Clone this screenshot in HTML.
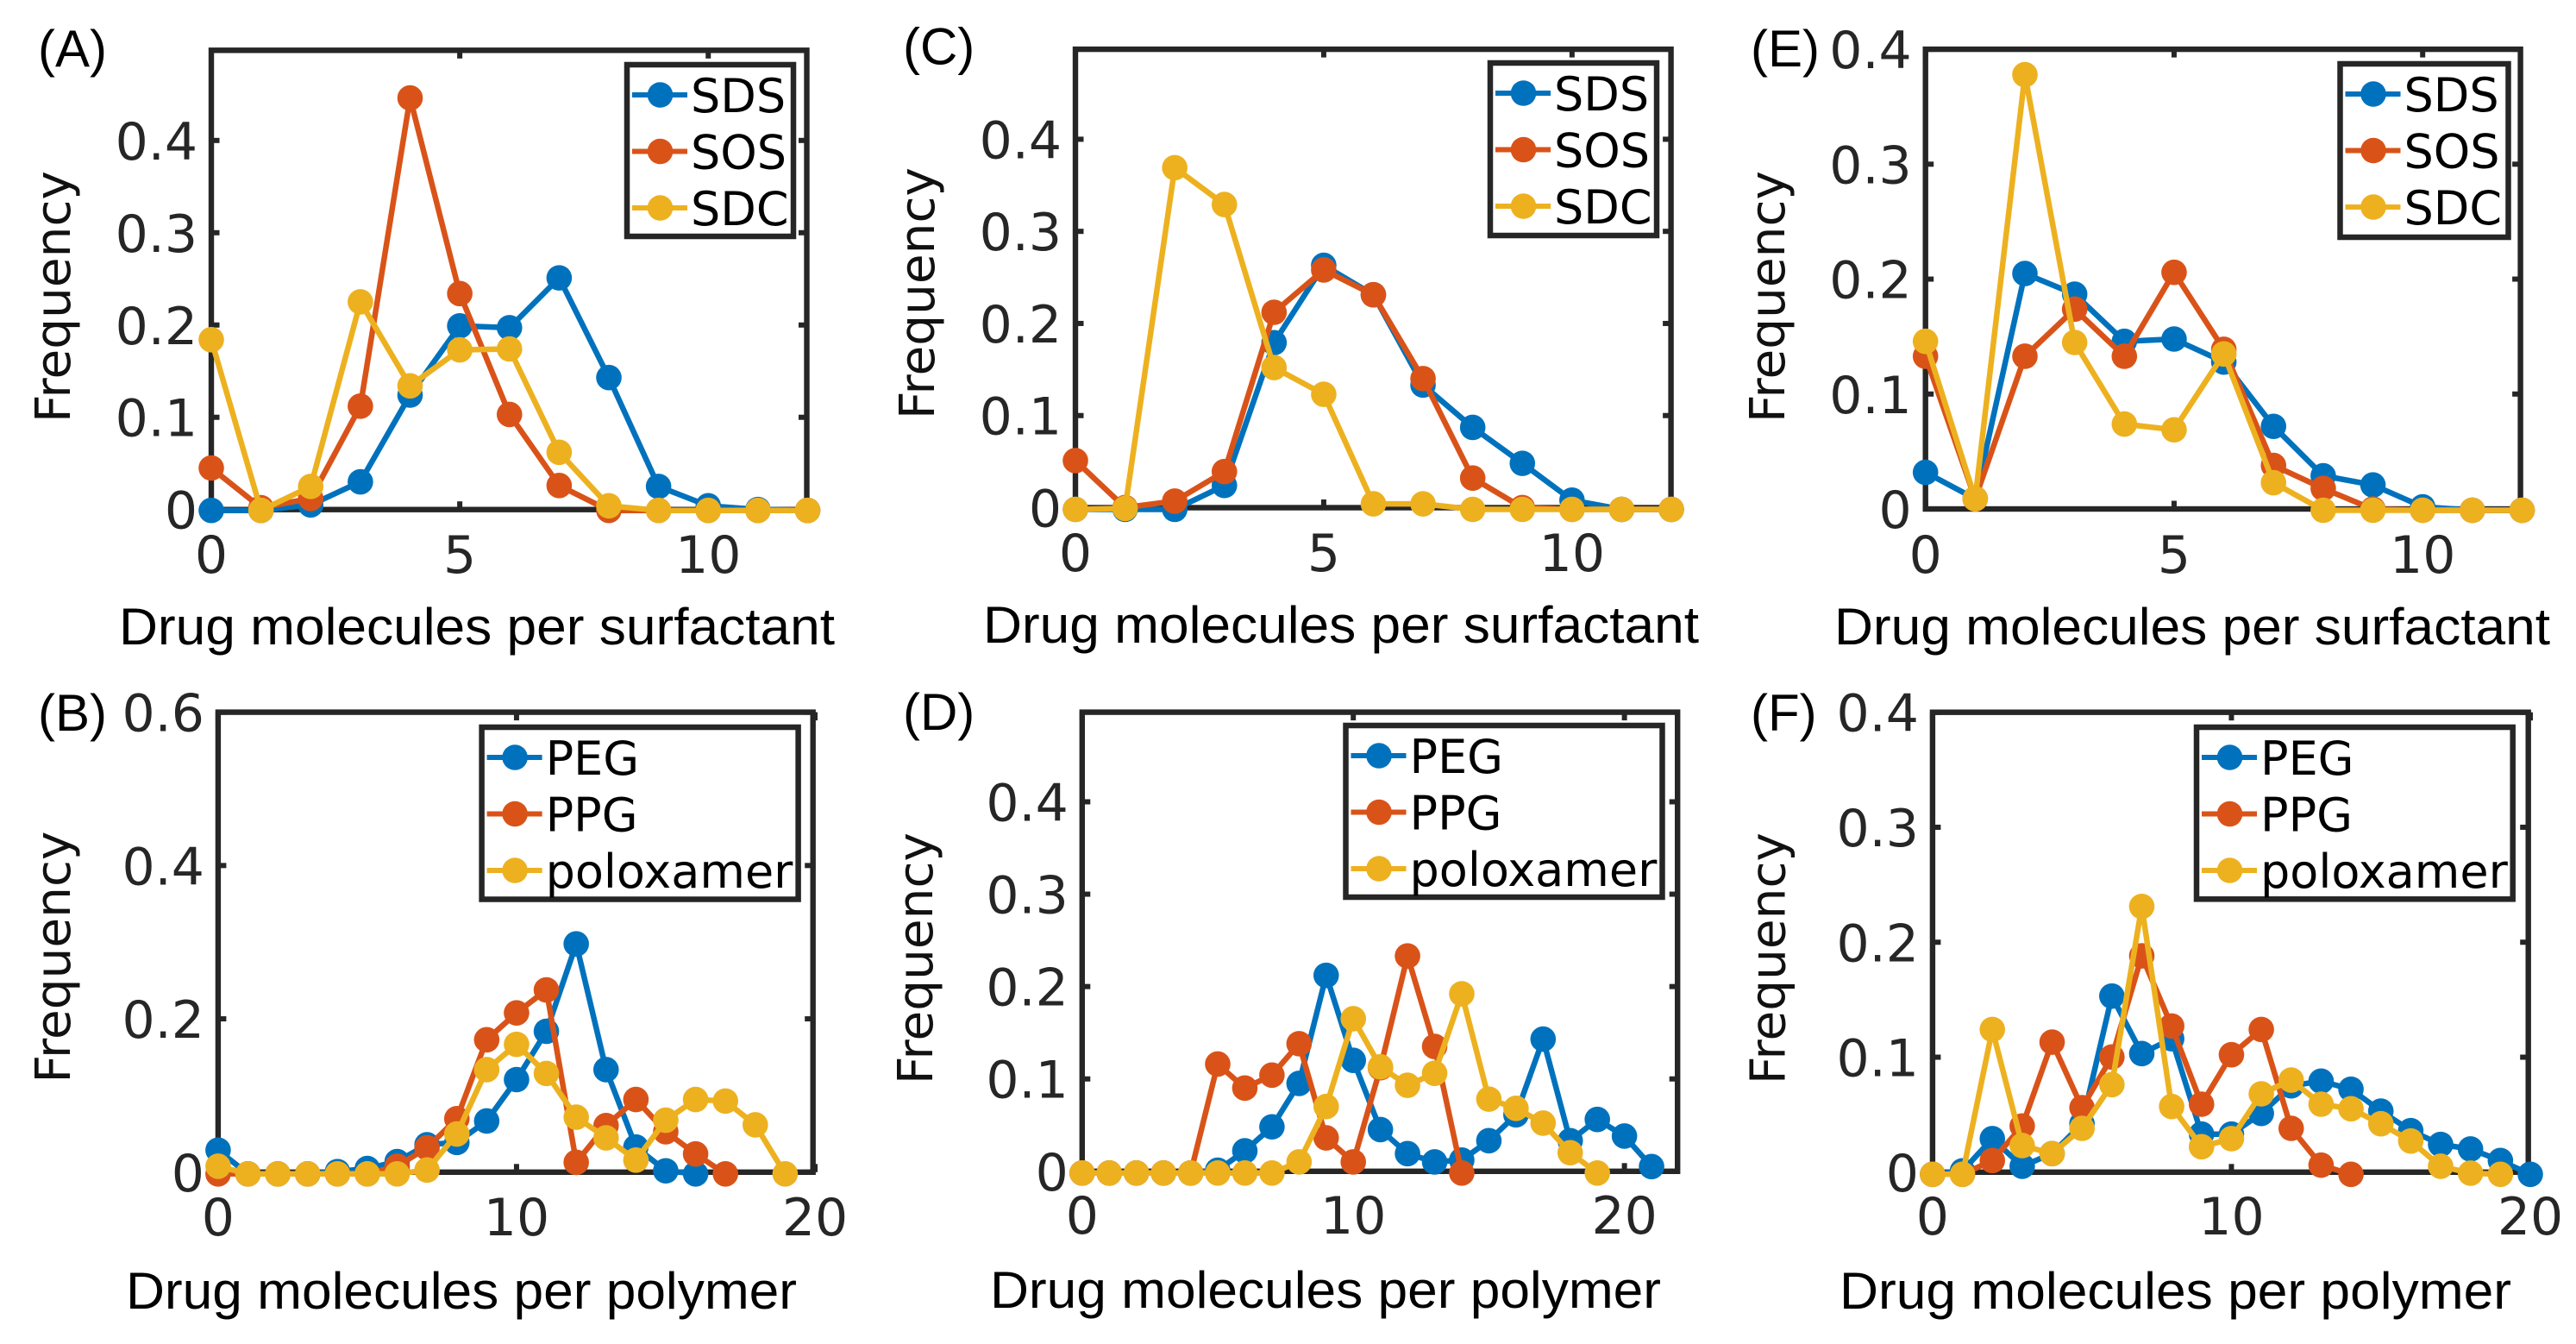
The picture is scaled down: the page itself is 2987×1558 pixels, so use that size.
<!DOCTYPE html>
<html lang="en">
<head>
<meta charset="utf-8">
<title>Drug molecule frequency distributions</title>
<style>
html,body{margin:0;padding:0;background:#fff;width:2987px;height:1558px;overflow:hidden}
svg{display:block}
.tick{font-family:"DejaVu Sans",sans-serif;font-size:60px;fill:#262626}
.xlab{font-family:"Liberation Sans",sans-serif;font-size:60px;fill:#000}
.ylab{font-family:"DejaVu Sans",sans-serif;font-size:56.5px;fill:#111}
.leg{font-family:"DejaVu Sans",sans-serif;font-size:54px;fill:#000}
.plab{font-family:"Liberation Sans",sans-serif;font-size:60px;fill:#000}
</style>
</head>
<body>
<svg id="figure" xmlns="http://www.w3.org/2000/svg" width="2987" height="1558" viewBox="0 0 2987 1558"></svg>
<script>
// Panel A
const aSDS = [0,0,0.006,0.031,0.125,0.2,0.198,0.252,0.144,0.026,0.005,0.001,0];
const aSOS = [0.046,0.003,0.013,0.113,0.447,0.235,0.104,0.027,0,0,0,0,0];
const aSDC = [0.185,0,0.026,0.226,0.135,0.174,0.175,0.063,0.005,0,0,0,0];
// Panel C
const cSDS = [0,0,0,0.026,0.181,0.265,0.233,0.135,0.089,0.05,0.01,0,0];
const cSOS = [0.053,0.002,0.009,0.041,0.214,0.26,0.233,0.142,0.034,0.002,0,0,0];
const cSDC = [0,0.001,0.371,0.331,0.154,0.125,0.006,0.006,0,0,0,0,0];
// Panel E
const eSDS = [0.033,0.01,0.206,0.188,0.147,0.149,0.129,0.073,0.03,0.022,0.003,0,0];
const eSOS = [0.134,0.01,0.134,0.175,0.134,0.207,0.14,0.039,0.019,0.001,0,0,0];
const eSDC = [0.147,0.01,0.379,0.146,0.075,0.07,0.136,0.024,0,0,0,0,0];
// Panel B
const bPEG = [0.031,0,0,0,0.003,0.007,0.016,0.038,0.041,0.069,0.123,0.186,0.3,0.136,0.035,0.004,0];
const bPPG = [0,0,0,0,0,0,0.01,0.034,0.072,0.175,0.21,0.24,0.015,0.063,0.097,0.055,0.026,0];
const bPOL = [0.01,0,0,0,0,0,0,0.005,0.052,0.136,0.169,0.131,0.074,0.047,0.018,0.07,0.097,0.095,0.064,0];
// Panel D
const dPEG = [0,0,0,0,0,0.003,0.024,0.05,0.097,0.214,0.122,0.047,0.021,0.012,0.014,0.035,0.063,0.145,0.035,0.058,0.04,0.007];
const dPPG = [0,0,0,0,0,0.118,0.092,0.106,0.14,0.038,0.012,0.114,0.235,0.137,0];
const dPOL = [0,0,0,0,0,0,0,0,0.012,0.072,0.167,0.115,0.095,0.108,0.194,0.08,0.07,0.054,0.022,0];
// Panel F
const fPEG = [0,0.003,0.031,0.007,0.018,0.044,0.155,0.105,0.118,0.035,0.035,0.053,0.077,0.081,0.074,0.055,0.038,0.026,0.022,0.012,0];
const fPPG = [0,0,0.012,0.042,0.115,0.058,0.102,0.19,0.129,0.061,0.104,0.126,0.04,0.008,0];
const fPOL = [0,0,0.126,0.025,0.018,0.04,0.078,0.233,0.059,0.024,0.031,0.07,0.082,0.061,0.057,0.044,0.029,0.007,0.001,0];
// Axis ticks and names
const surfactantNames = ["SDS","SOS","SDC"];
const polymerNames = ["PEG","PPG","poloxamer"];
const surfactantXTicks = [0,5,10];
const polymerXTicks = [0,10,20];
const yTicksFive = [0,0.1,0.2,0.3,0.4];
const yTicksSix = [0,0.2,0.4,0.6];

const colors = ["#0072BD","#D95319","#EDB120"];
const NS = "http://www.w3.org/2000/svg";
const root = document.getElementById("figure");

function mk(parent, tag, attrs, text){
  const el = document.createElementNS(NS, tag);
  for (const k in attrs) el.setAttribute(k, attrs[k]);
  if (text !== undefined) el.textContent = text;
  parent.appendChild(el);
  return el;
}
function fmt(v){ return v === 0 ? "0" : String(v); }

function drawPanel(p){
  const g = mk(root, "g", {});
  
  

  const X = v => p.left + v / p.xMax * (p.dataRight - p.left);
  const Y = v => p.bottom + p.shift - v / p.yMax * (p.bottom - p.top);
  const YT = v => p.bottom - v / p.yMax * (p.bottom - p.top);

  const frame = mk(g, "rect", {x:p.left, y:p.top, width:p.right-p.left, height:p.bottom-p.top, fill:"#fff", stroke:"#262626", "stroke-width":6.4});
  
  

  p.xTicks.forEach(t => {
    const a = mk(g, "line", {x1:X(t), x2:X(t), y1:p.bottom, y2:p.bottom-9.5, stroke:"#262626", "stroke-width":6});
    
    
    const b = mk(g, "line", {x1:X(t), x2:X(t), y1:p.top, y2:p.top+9.5, stroke:"#262626", "stroke-width":6});
    
    
    const l = mk(g, "text", {x:X(t), y:p.xTickY, "text-anchor":"middle", class:"tick"}, fmt(t));
    
    
  });
  p.yTicks.forEach(t => {
    const a = mk(g, "line", {x1:p.left, x2:p.left+9.5, y1:YT(t), y2:YT(t), stroke:"#262626", "stroke-width":6});
    
    
    const b = mk(g, "line", {x1:p.right, x2:p.right-9.5, y1:YT(t), y2:YT(t), stroke:"#262626", "stroke-width":6});
    
    
    const l = mk(g, "text", {x:p.left-16, y:YT(t)+22, "text-anchor":"end", class:"tick"}, fmt(t));
    
    
  });

  p.series.forEach((vals, i) => {
    const sg = mk(g, "g", {});
    
    
    const pts = vals.map((v, x) => X(x).toFixed(1) + "," + Y(v).toFixed(1)).join(" ");
    const line = mk(sg, "polyline", {points:pts, fill:"none", stroke:colors[i], "stroke-width":6.5, "stroke-linejoin":"round"});
    
    
    vals.forEach((v, x) => {
      const c = mk(sg, "circle", {cx:X(x), cy:Y(v), r:14.8, fill:colors[i]});
      
      
    });
  });

  const lg = mk(g, "g", {});
  
  
  const box = mk(lg, "rect", {x:p.legX, y:p.legY, width:p.legW, height:p.legH, fill:"#fff", stroke:"#262626", "stroke-width":6.5});
  
  
  p.names.forEach((name, i) => {
    const ry = p.legY + 35 + i * 65.5;
    const lx = p.legX + 6;
    const sw = mk(lg, "line", {x1:lx, x2:lx+64, y1:ry, y2:ry, stroke:colors[i], "stroke-width":6});
    
    
    const dot = mk(lg, "circle", {cx:lx+32.5, cy:ry, r:14.8, fill:colors[i]});
    
    
    const tx = mk(lg, "text", {x:lx+68, y:ry+20, class:"leg"}, name);
    
    
  });

  const xl = mk(g, "text", {x:p.xLabX, y:p.xLabY, class:"xlab", textLength:p.xLabW, lengthAdjust:"spacingAndGlyphs"}, p.xLabel);
  
  
  const yl = mk(g, "text", {transform:"translate(" + p.yLabX + "," + p.yLabY + ") rotate(-90)", "text-anchor":"middle", class:"ylab"}, "Frequency");
  
  
  const pl = mk(g, "text", {x:p.pLabX, y:p.pLabY, class:"plab"}, "(" + p.id + ")");
  
  
}

const surfLabel = "Drug molecules per surfactant";
const polyLabel = "Drug molecules per polymer";

drawPanel({id:"A",left:245,right:935.5,dataRight:936.5,top:58.3,bottom:590.7,shift:1,xMax:12,yMax:0.4977,xTicks:surfactantXTicks,yTicks:yTicksFive,xTickY:664,
  series:[aSDS,aSOS,aSDC],names:surfactantNames,legX:727,legY:75,legW:193,legH:199,
  xLabel:surfLabel,xLabX:138,xLabY:747,xLabW:830,yLabX:81,yLabY:344,pLabX:44,pLabY:77});
drawPanel({id:"C",left:1247,right:1937.6,dataRight:1938,top:57.1,bottom:588.5,shift:2,xMax:12,yMax:0.4977,xTicks:surfactantXTicks,yTicks:yTicksFive,xTickY:662,
  series:[cSDS,cSOS,cSDC],names:surfactantNames,legX:1728,legY:73,legW:193,legH:200,
  xLabel:surfLabel,xLabX:1140,xLabY:745,xLabW:830,yLabX:1083,yLabY:340,pLabX:1047,pLabY:74.5});
drawPanel({id:"E",left:2232.7,right:2922.6,dataRight:2924.5,top:57.1,bottom:590,shift:1.5,xMax:12,yMax:0.4,xTicks:surfactantXTicks,yTicks:yTicksFive,xTickY:664,
  series:[eSDS,eSOS,eSDC],names:surfactantNames,legX:2713.5,legY:74,legW:195,legH:201,
  xLabel:surfLabel,xLabX:2127,xLabY:747,xLabW:830,yLabX:2069,yLabY:344,pLabX:2030,pLabY:77});
drawPanel({id:"B",left:252.9,right:942.7,dataRight:945,top:825.6,bottom:1358.8,shift:2,xMax:20,yMax:0.6,xTicks:polymerXTicks,yTicks:yTicksSix,xTickY:1432,
  series:[bPEG,bPPG,bPOL],names:polymerNames,legX:558.6,legY:843,legW:367,legH:199.5,
  xLabel:polyLabel,xLabX:146,xLabY:1517,xLabW:778,yLabX:81,yLabY:1109.5,pLabX:44,pLabY:847});
drawPanel({id:"D",left:1254.8,right:1945.2,dataRight:1946.5,top:825.6,bottom:1357.8,shift:2,xMax:22,yMax:0.497,xTicks:polymerXTicks,yTicks:yTicksFive,xTickY:1430,
  series:[dPEG,dPPG,dPOL],names:polymerNames,legX:1560.5,legY:841,legW:367,legH:199,
  xLabel:polyLabel,xLabX:1148,xLabY:1516,xLabW:778,yLabX:1081,yLabY:1111,pLabX:1047,pLabY:846});
drawPanel({id:"F",left:2240.9,right:2931.7,dataRight:2934,top:825.7,bottom:1358.8,shift:2.5,xMax:20,yMax:0.4,xTicks:polymerXTicks,yTicks:yTicksFive,xTickY:1431,
  series:[fPEG,fPPG,fPOL],names:polymerNames,legX:2547,legY:843,legW:366.7,legH:199.3,
  xLabel:polyLabel,xLabX:2133,xLabY:1517,xLabW:779,yLabX:2069.5,yLabY:1111,pLabX:2030,pLabY:847});
</script>
</body>
</html>
